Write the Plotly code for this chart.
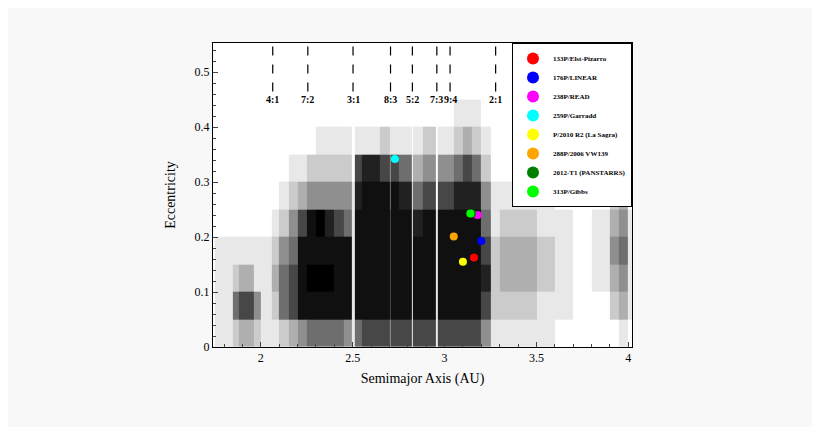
import plotly.graph_objects as go
import numpy as np

# Density of background asteroid population (0-9), per semimajor-axis column,
# listed from e=0 upward in 0.05 steps
a_edges = [1.75,1.85,1.88,1.92,1.96,2.0,2.06,2.1,2.15,2.2,2.25,2.3,2.35,2.4,2.45,2.495,2.51,
           2.55,2.6,2.65,2.7,2.71,2.75,2.82,2.83,2.88,2.95,2.965,3.0,3.05,3.1,3.15,3.2,3.25,
           3.3,3.4,3.5,3.6,3.7,3.8,3.9,3.95,4.0,4.02]
e_edges = [0,0.05,0.1,0.15,0.2,0.25,0.3,0.35,0.4,0.45,0.5,0.55]
density_cols = ["11110000000","25210000000","36310000000","36310000000","24110000000",
    "11110000000","12321000000","25542100000","36654210000","48886310000","58988420000",
    "58989421000","58987421000","58886421000","48885421000","11111100000","58888761000",
    "68888871000","68888871000","68888862000","46666541000","68888861000","68888751000",
    "11111100000","68887531000","68888642000","11111000000","68888641000","68888641000",
    "68888752100","68888763100","68888752100","46765421000","12221100000","12332100000",
    "12332110000","11221100000","01111000000","00000000000","00111000000","02343210000",
    "13454321000","01111000000"]

names = ["133P/Elst-Pizarro","176P/LINEAR","238P/READ","259P/Garradd","P/2010 R2 (La Sagra)",
         "288P/2006 VW139","2012-T1 (PANSTARRS)","313P/Gibbs"]
obj_a = [3.16,3.20,3.18,2.73,3.10,3.05,3.15,3.14]
obj_e = [0.163,0.193,0.240,0.342,0.155,0.201,0.243,0.243]
colors = ["#ff0000","#0000ff","#ff00ff","#00ffff","#ffff00","#ffa500","#008000","#00ff00"]

res_labels = ["4:1","7:2","3:1","8:3","5:2","7:3","9:4","2:1"]
res_a = [2.065,2.256,2.502,2.706,2.825,2.958,3.03,3.278]

z = np.array([[int(ch) for ch in col] for col in density_cols]).T

fig = go.Figure()
fig.add_trace(go.Heatmap(x=a_edges, y=e_edges, z=z, zmin=0, zmax=9, showscale=False,
    colorscale=[[0,"#ffffff"],[0.11,"#e8e8e8"],[0.33,"#b0b0b0"],[0.55,"#707070"],
                [0.78,"#202020"],[1,"#000000"]],
    hoverinfo="skip"))
for n,a,e,c in zip(names,obj_a,obj_e,colors):
    fig.add_trace(go.Scatter(x=[a],y=[e],mode="markers",name="<b>"+n+"</b>",
        marker=dict(color=c,size=8)))
for lab,a in zip(res_labels,res_a):
    fig.add_shape(type="line",x0=a,x1=a,y0=0.465,y1=0.55,line=dict(color="black",width=1.2,dash="dash"))
    fig.add_annotation(x=a,y=0.45,text="<b>"+lab+"</b>",showarrow=False,font=dict(size=10,color="black"))

fig.update_layout(width=820,height=427,paper_bgcolor="#f8f8f8",plot_bgcolor="white",
    margin=dict(l=205,r=196,t=35,b=88),
    font=dict(family="Liberation Serif",size=12,color="black"),
    legend=dict(x=1,y=1,xanchor="right",yanchor="top",bordercolor="black",borderwidth=1,
        bgcolor="white",font=dict(size=7),itemsizing="constant",tracegroupgap=0,itemwidth=30),
    xaxis=dict(range=[1.74,4.02],tickvals=[2,2.5,3,3.5,4],ticktext=["2","2.5","3","3.5","4"],
        title=dict(text="Semimajor Axis (AU)",standoff=8),showline=True,linecolor="black",mirror=True,
        ticks="inside",showgrid=False,zeroline=False,minor=dict(ticks="inside",dtick=0.1,ticklen=3)),
    yaxis=dict(range=[0,0.553],dtick=0.1,title=dict(text="Eccentricity"),showline=True,
        linecolor="black",mirror=True,ticks="inside",showgrid=False,zeroline=False,
        minor=dict(ticks="inside",dtick=0.02,ticklen=3)))
fig.write_html("out.html")
